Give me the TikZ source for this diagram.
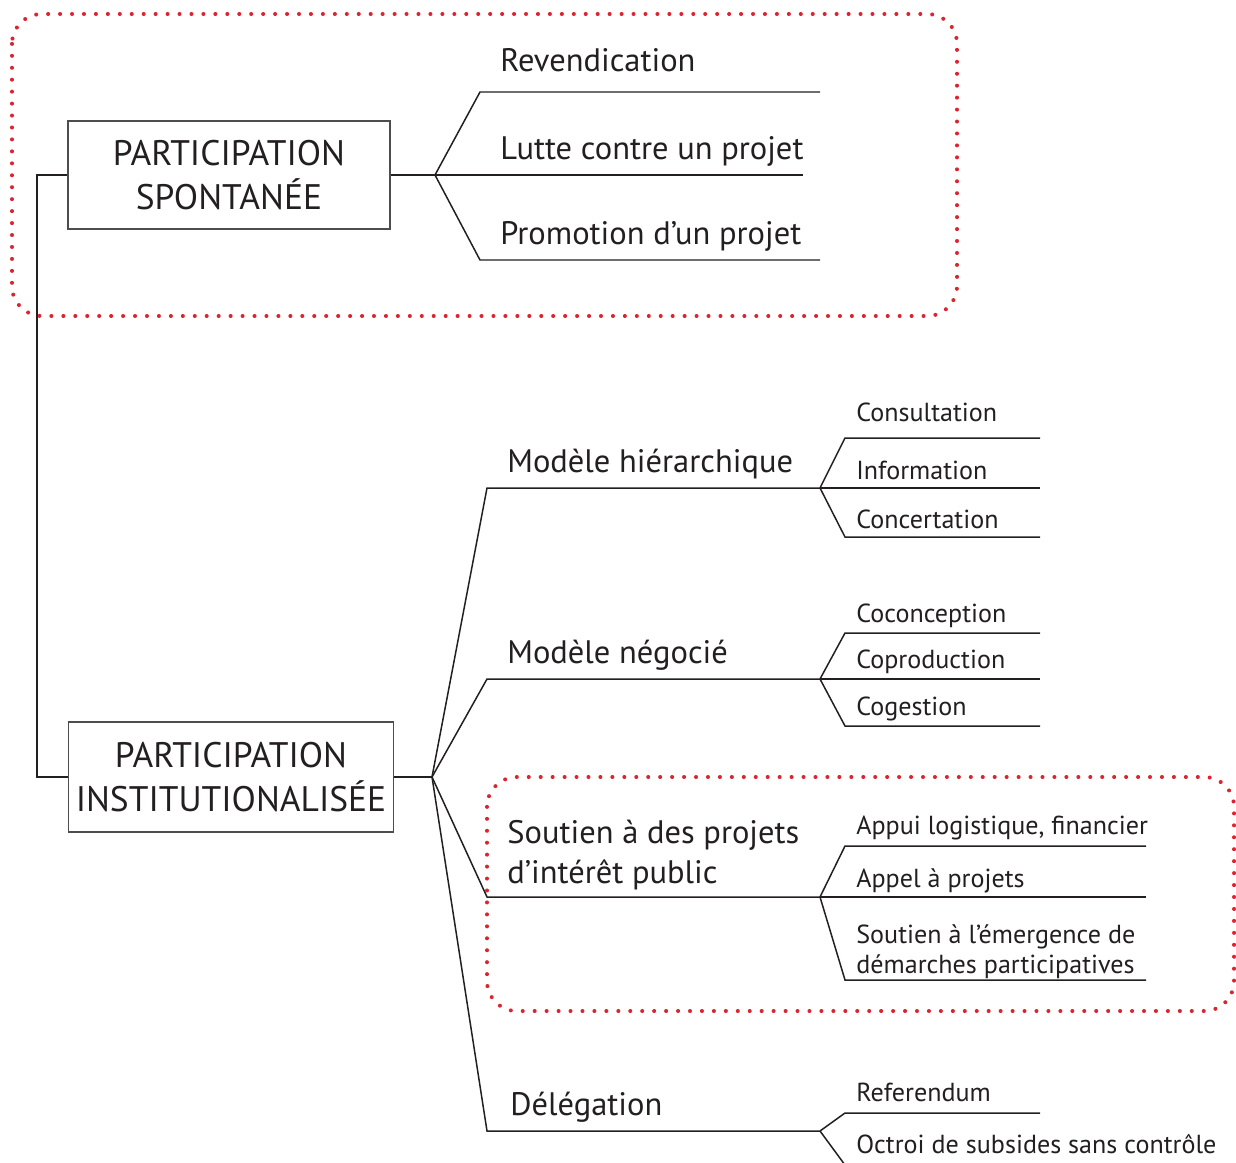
\documentclass[tikz,border=0pt]{standalone}
\usepackage{fontspec}
\setmainfont{PT Sans}
\definecolor{ink}{RGB}{35,31,32}
\definecolor{pointred}{RGB}{218,37,48}

\begin{document}
\begin{tikzpicture}[
  x=0.02cm, y=-0.02cm,
  typebox/.style={rectangle, draw=ink!80, line width=0.7pt, text=ink, align=center,
    inner sep=0pt, font=\fontsize{20.2}{24.8}\selectfont},
  biglabel/.style={anchor=base west, inner sep=0pt, text=ink, align=left,
    font=\fontsize{18.5}{22.7}\selectfont},
  smalllabel/.style={anchor=base west, inner sep=0pt, text=ink, align=left,
    font=\fontsize{14.85}{17}\selectfont},
  branch/.style={draw=ink, line width=0.85pt},
  dotframe/.style={draw=pointred, line width=2.3pt, line cap=round,
    dash pattern=on 0pt off 6.8pt, rounded corners=17pt}
]
  \useasboundingbox (0,0) rectangle (1236,1162);

  % red dotted frames
  \draw[dotframe] (12,14) rectangle (957,316);
  \draw[dotframe] (487,777) rectangle (1234,1011);

  % the two kinds of participation
  \node[typebox, minimum width=6.44cm, minimum height=2.16cm] (spont) at (229,175)
    {PARTICIPATION\\SPONTANÉE};
  \node[typebox, minimum width=6.5cm, minimum height=2.2cm] (inst) at (231,777)
    {PARTICIPATION\\INSTITUTIONALISÉE};

  \coordinate (trunk0) at (37,175);
  \coordinate (trunk1) at (37,777);
  \draw[branch] (spont.west) -- (trunk0) -- (trunk1) -- (inst.west);

  % spontaneous participation
  \coordinate (fs) at (435,175);
  \coordinate (rev0) at (480,92);  \coordinate (rev1) at (820,92);
  \coordinate (lut1) at (803,175);
  \coordinate (pro0) at (480,260); \coordinate (pro1) at (820,260);
  \draw[branch] (spont.east) -- (fs);
  \draw[branch] (fs) -- (rev0) -- (rev1);
  \draw[branch] (fs) -- (lut1);
  \draw[branch] (fs) -- (pro0) -- (pro1);

  \node[biglabel] (rev) at (500,72) {Revendication};
  \node[biglabel] (lut) at (500,160) {Lutte contre un projet};
  \node[biglabel] (pro) at (500,244) {Promotion d’un projet};

  % institutional participation
  \coordinate (fi) at (432,777);
  \coordinate (hie0) at (487,488); \coordinate (hf) at (820,488);
  \coordinate (neg0) at (487,679); \coordinate (nf) at (820,679);
  \coordinate (sou0) at (487,897); \coordinate (sf) at (820,897);
  \coordinate (del0) at (487,1131); \coordinate (df) at (820,1131);
  \draw[branch] (inst.east) -- (fi);
  \draw[branch] (fi) -- (hie0) -- (hf);
  \draw[branch] (fi) -- (neg0) -- (nf);
  \draw[branch] (fi) -- (sou0) -- (sf);
  \draw[branch] (fi) -- (del0) -- (df);

  \node[biglabel] (hie) at (507,472) {Modèle hiérarchique};
  \node[biglabel] (neg) at (507,663) {Modèle négocié};
  \node[biglabel] (sou) at (507,883) {Soutien à des projets\\d’intérêt public};
  \node[biglabel] (del) at (510,1115) {Délégation};

  % hierarchical model
  \coordinate (con0) at (845,438); \coordinate (con1) at (1040,438);
  \coordinate (inf1) at (1040,488);
  \coordinate (cct0) at (845,537); \coordinate (cct1) at (1040,537);
  \draw[branch] (hf) -- (con0) -- (con1);
  \draw[branch] (hf) -- (inf1);
  \draw[branch] (hf) -- (cct0) -- (cct1);
  \node[smalllabel] (con) at (856,421) {Consultation};
  \node[smalllabel] (inf) at (856,479) {Information};
  \node[smalllabel] (cct) at (856,528) {Concertation};

  % negotiated model
  \coordinate (coc0) at (845,633); \coordinate (coc1) at (1040,633);
  \coordinate (cop1) at (1040,679);
  \coordinate (cog0) at (845,726); \coordinate (cog1) at (1040,726);
  \draw[branch] (nf) -- (coc0) -- (coc1);
  \draw[branch] (nf) -- (cop1);
  \draw[branch] (nf) -- (cog0) -- (cog1);
  \node[smalllabel] (coc) at (856,622) {Coconception};
  \node[smalllabel] (cop) at (856,668) {Coproduction};
  \node[smalllabel] (cog) at (856,715) {Cogestion};

  % support of projects
  \coordinate (app0) at (845,846); \coordinate (app1) at (1146,846);
  \coordinate (apl1) at (1146,897);
  \coordinate (eme0) at (845,980); \coordinate (eme1) at (1146,980);
  \draw[branch] (sf) -- (app0) -- (app1);
  \draw[branch] (sf) -- (apl1);
  \draw[branch] (sf) -- (eme0) -- (eme1);
  \node[smalllabel] (app) at (856,834) {Appui logistique, financier};
  \node[smalllabel] (apl) at (856,887) {Appel à projets};
  \node[smalllabel] (eme) at (856,973)
    {Soutien à l’émergence de\\démarches participatives};

  % delegation
  \coordinate (ref0) at (845,1113); \coordinate (ref1) at (1040,1113);
  \coordinate (oct0) at (845,1165);
  \draw[branch] (df) -- (ref0) -- (ref1);
  \draw[branch] (df) -- (oct0);
  \node[smalllabel] (ref) at (856,1101) {Referendum};
  \node[smalllabel] (oct) at (856,1153) {Octroi de subsides sans contrôle};
\end{tikzpicture}
\end{document}
